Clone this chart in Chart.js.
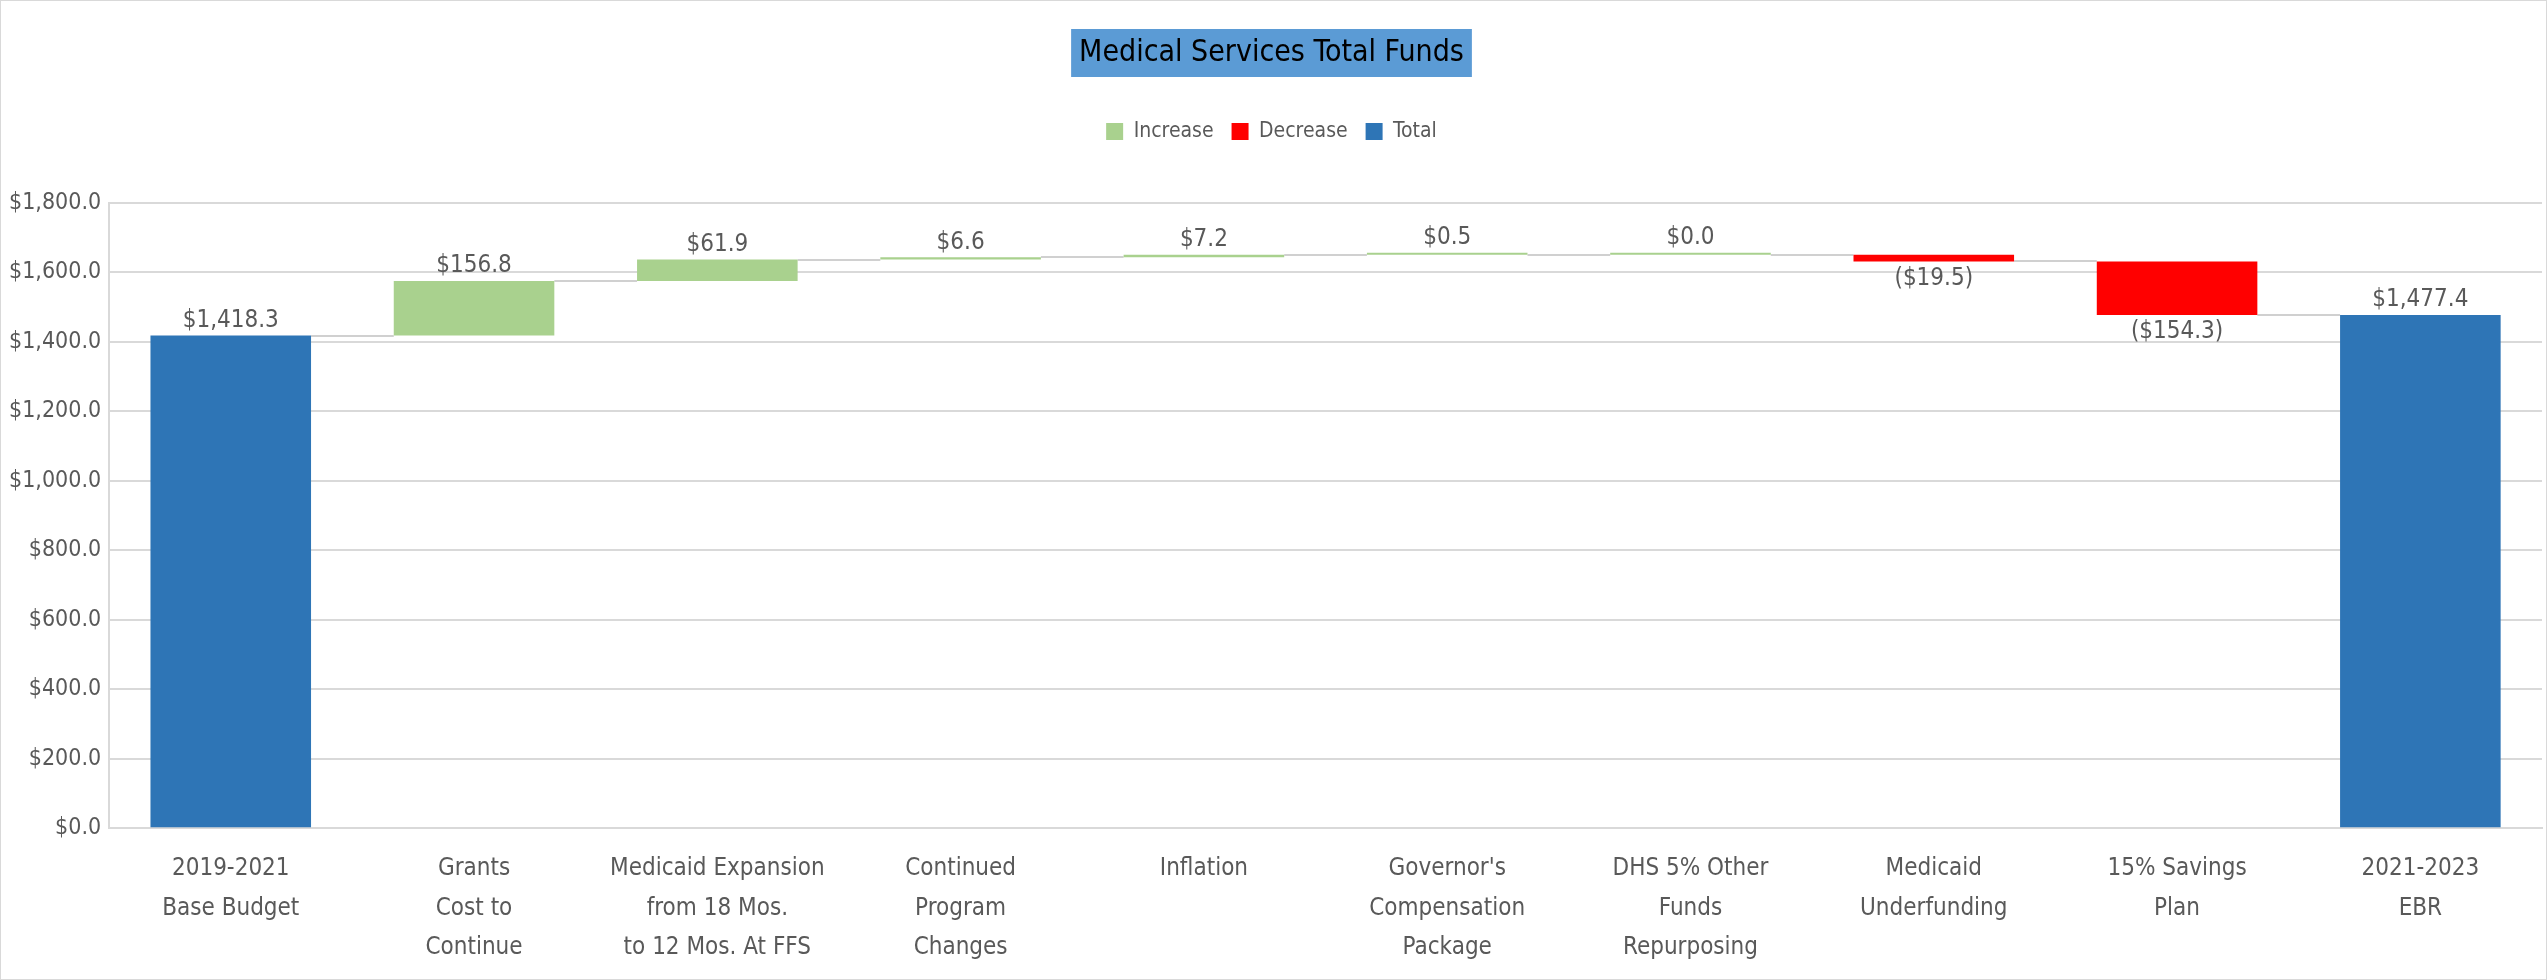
<!DOCTYPE html>
<html>
<head>
<meta charset="utf-8">
<script src="https://cdn.jsdelivr.net/npm/chart.js@4/dist/chart.umd.min.js"></script>
<style>
  html, body { margin: 0; padding: 0; background: #fff; }
  #wrap { width: 2545px; height: 978px; border: 1px solid #d9d9d9; }
</style>
</head>
<body>
<div id="wrap"><canvas id="chart"></canvas></div>
<script>
// categories along the x axis
const categories = [
  ['2019-2021', 'Base Budget'],
  ['Grants', 'Cost to', 'Continue'],
  ['Medicaid Expansion', 'from 18 Mos.', 'to 12 Mos. At FFS'],
  ['Continued', 'Program', 'Changes'],
  ['Inflation'],
  ["Governor's", 'Compensation', 'Package'],
  ['DHS 5% Other', 'Funds', 'Repurposing'],
  ['Medicaid', 'Underfunding'],
  ['15% Savings', 'Plan'],
  ['2021-2023', 'EBR']
];
// step values ($ millions); totals are full bars
const changes = [1418.3, 156.8, 61.9, 6.6, 7.2, 0.5, 0.0, -19.5, -154.3, 1477.4];
const kinds = ['total', 'inc', 'inc', 'inc', 'inc', 'inc', 'inc', 'dec', 'dec', 'total'];
const yTicks = [0, 200, 400, 600, 800, 1000, 1200, 1400, 1600, 1800];

const FONT = "'Liberation Sans Narrow', 'DejaVu Sans Condensed', sans-serif";
const TEXT = '#595959';

// floating bar ranges built from the steps
let running = 0;
const ranges = changes.map((v, i) => {
  if (kinds[i] === 'total') { running = v; return [0, v]; }
  const start = running;
  running += v;
  return [start, running];
});
const levels = ranges.map(r => r[1]);

function pick(kind) {
  return ranges.map((r, i) => kinds[i] === kind ? r : null);
}

function money(v) {
  const s = '$' + Math.abs(v).toLocaleString('en-US', { minimumFractionDigits: 1, maximumFractionDigits: 1 });
  return v < 0 ? '(' + s + ')' : s;
}

const waterfallPlugin = {
  id: 'waterfall',
  beforeInit(chart) {
    // extra room under the legend
    const legend = chart.legend;
    if (!legend) return;
    const fit = legend.fit;
    legend.fit = function () {
      fit.call(this);
      this.height += 51;
    };
  },
  beforeDatasetsDraw(chart) {
    // connector lines between bars
    const ctx = chart.ctx;
    const y = chart.scales.y;
    const bars = [];
    chart.data.datasets.forEach((ds, d) => {
      chart.getDatasetMeta(d).data.forEach((el, i) => { if (ds.data[i]) bars[i] = el; });
    });
    ctx.save();
    ctx.strokeStyle = '#d0d0d0';
    ctx.lineWidth = 2;
    for (let i = 0; i < bars.length - 1; i++) {
      const a = bars[i], b = bars[i + 1];
      const py = Math.round(y.getPixelForValue(levels[i]));
      ctx.beginPath();
      ctx.moveTo(a.x + a.width / 2, py);
      ctx.lineTo(b.x - b.width / 2, py);
      ctx.stroke();
    }
    ctx.restore();
  },
  afterDatasetsDraw(chart) {
    const ctx = chart.ctx;
    ctx.save();
    ctx.font = '24px ' + FONT;
    ctx.fillStyle = TEXT;
    ctx.textAlign = 'center';
    chart.data.datasets.forEach((ds, d) => {
      chart.getDatasetMeta(d).data.forEach((el, i) => {
        if (!ds.data[i]) return;
        const top = Math.min(el.y, el.base), bottom = Math.max(el.y, el.base);
        if (kinds[i] === 'dec') {
          ctx.textBaseline = 'top';
          ctx.fillText(money(changes[i]), el.x, bottom + 5);
        } else {
          ctx.textBaseline = 'bottom';
          ctx.fillText(money(changes[i]), el.x, top - 3);
        }
      });
    });
    ctx.restore();
  },
  beforeDraw(chart) {
    // blue box behind the title
    const t = chart.titleBlock;
    if (!t) return;
    const opts = chart.options.plugins.title;
    const ctx = chart.ctx;
    ctx.save();
    ctx.font = '30px ' + FONT;
    const w = ctx.measureText(opts.text).width;
    const cx = (t.left + t.right) / 2;
    const cy = t.top + opts.padding.top + 30 * 1.2 / 2;
    ctx.fillStyle = '#5B9BD5';
    ctx.fillRect(cx - w / 2 - 8, cy - 24, w + 16, 48);
    ctx.restore();
  }
};

new Chart(document.getElementById('chart'), {
  type: 'bar',
  data: {
    labels: categories,
    datasets: [
      { label: 'Increase', data: pick('inc'), backgroundColor: '#A9D18E', grouped: false, minBarLength: 2 },
      { label: 'Decrease', data: pick('dec'), backgroundColor: '#FF0000', grouped: false, minBarLength: 2 },
      { label: 'Total', data: pick('total'), backgroundColor: '#2E75B6', grouped: false }
    ]
  },
  options: {
    responsive: true,
    maintainAspectRatio: false,
    animation: false,
    categoryPercentage: 1,
    barPercentage: 0.66,
    layout: { padding: { left: 0, right: 4, top: 0, bottom: -2 } },
    plugins: {
      tooltip: { enabled: false },
      title: {
        display: true,
        text: 'Medical Services Total Funds',
        color: '#000',
        font: { family: FONT, size: 30, weight: 'normal' },
        padding: { top: 34, bottom: 32 }
      },
      legend: {
        position: 'top',
        labels: {
          color: TEXT,
          font: { family: FONT, size: 21 },
          boxWidth: 17,
          boxHeight: 17,
          padding: 18
        }
      }
    },
    scales: {
      x: {
        grid: { display: false },
        border: { color: '#d9d9d9', width: 2 },
        ticks: {
          color: TEXT,
          font: { family: FONT, size: 24, lineHeight: 1.65 },
          maxRotation: 0,
          autoSkip: false,
          padding: 13
        }
      },
      y: {
        min: 0,
        max: 1800,
        afterBuildTicks(axis) { axis.ticks = yTicks.map(v => ({ value: v })); },
        grid: { color: '#d9d9d9', lineWidth: 2, drawTicks: false },
        border: { color: '#d9d9d9', width: 2 },
        ticks: {
          color: TEXT,
          font: { family: FONT, size: 23 },
          padding: 8,
          callback: v => money(v)
        }
      }
    }
  },
  plugins: [waterfallPlugin]
});
</script>
</body>
</html>
